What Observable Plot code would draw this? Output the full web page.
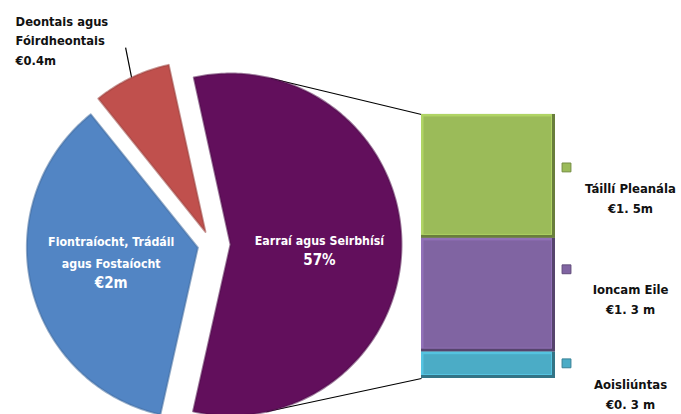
<!DOCTYPE html>
<html><head><meta charset="utf-8">
<script src="https://cdn.jsdelivr.net/npm/d3@7"></script>
<script src="https://cdn.jsdelivr.net/npm/@observablehq/plot@0.6"></script>
<style>
html,body{margin:0;padding:0;background:#fff;}
#chart svg{display:block;}
</style></head><body><div id="chart"></div>
<script>
// ---------- data ----------
const barCategories = ["Táillí Pleanála", "Ioncam Eile", "Aoisliúntas"];
const barValues = [1.46, 1.34, 0.31];            // €m, stacked top -> bottom
const barValueLabels = ["€1. 5m", "€1. 3 m", "€0. 3 m"];
const pieCategories = ["Earraí agus Seirbhísí", "Fiontraíocht, Trádáil\nagus Fostaíocht", "Deontais agus\nFóirdheontais"];
const pieOtherValues = [1.95, 0.4];              // €m; first slice = sum of the bar
const pieValueLabels = ["57%", "€2m", "€0.4m"];

// ---------- styles / layout ----------
const pieColors = ["#620f5c", "#5285c4", "#c0504d"];
const barColors = ["#9bbb59", "#8064a2", "#4bacc6"];
const W = 681, H = 414;
const pxPerM = 84.9, barBottomPx = 378, barLeftPx = 421, barRightPx = 555;
const pieCenterPx = [211, 244], pieR = 171, explodePx = [19, 14, 14];
const startDeg = -12.4;
const legendNudgePx = [-9, -26, -2];
const FONT = "'DejaVu Sans Condensed', 'DejaVu Sans', sans-serif";

const X = px => px / pxPerM;
const Y = py => (barBottomPx - py) / pxPerM;
const PY = v => barBottomPx - v * pxPerM;
const dark = (c, k) => d3.color(c).darker(k).formatHex();
const light = (c, k) => d3.color(c).brighter(k).formatHex();

// ---------- pie geometry ----------
const total = d3.sum(barValues);
const pieValues = [total, ...pieOtherValues];
const pieData = pieCategories.map((c, i) => ({category: c, value: pieValues[i], label: pieValueLabels[i], color: pieColors[i], explode: explodePx[i]}));
const a0 = startDeg * Math.PI / 180;
const arcs = d3.pie().sort(null).value(d => d.value).startAngle(a0).endAngle(a0 + 2 * Math.PI)(pieData);
const slices = arcs.map((a, i) => {
  const m = (a.startAngle + a.endAngle) / 2;
  return {...a, i, m, ax: pieCenterPx[0] + a.data.explode * Math.sin(m), ay: pieCenterPx[1] - a.data.explode * Math.cos(m)};
});
const slicePts = slices.flatMap(s => {
  const n = Math.ceil((s.endAngle - s.startAngle) * 60) + 4;
  const pts = [[s.ax, s.ay]];
  for (let j = 0; j <= n; j++) {
    const t = s.startAngle + (s.endAngle - s.startAngle) * j / n;
    pts.push([s.ax + pieR * Math.sin(t), s.ay - pieR * Math.cos(t)]);
  }
  pts.push([s.ax, s.ay]);
  return pts.map(p => ({k: s.i, x: X(p[0]), y: Y(p[1]), fill: s.data.color, stroke: dark(s.data.color, 0.6)}));
});

// labels inside slices (0: purple, 1: blue)
const insideLabels = slices.slice(0, 2).map(s => {
  const f = 0.52;
  const px = s.ax + f * pieR * Math.sin(s.m), py = s.ay - f * pieR * Math.cos(s.m);
  const nLines = s.data.category.split("\n").length;
  return {px, py, name: s.data.category, value: s.data.label, nameY: Y(py - 7 - (nLines - 1) * 10.5), valueY: Y(py + 15), x: X(px)};
});

// outside label for the small red slice
const red = slices[2];
const redMid = [red.ax + pieR * Math.sin(red.m), red.ay - pieR * Math.cos(red.m)];
const leaderEnd = [redMid[0] - 6, redMid[1] - 30];
const redLabel = [{x: X(leaderEnd[0] - 110), y: Y(leaderEnd[1] - 8.5), text: red.data.category + "\n" + red.data.label}];
const leader = [{x1: X(redMid[0]), y1: Y(redMid[1]), x2: X(leaderEnd[0]), y2: Y(leaderEnd[1])}];

// connector lines: tangents from bar corners to the "other" slice
function tangent(P, C, r, upper) {
  const dx = P[0] - C[0], dy = P[1] - C[1], d = Math.hypot(dx, dy);
  const base = Math.atan2(dy, dx), off = Math.acos(r / d);
  const p1 = [C[0] + r * Math.cos(base + off), C[1] + r * Math.sin(base + off)];
  const p2 = [C[0] + r * Math.cos(base - off), C[1] + r * Math.sin(base - off)];
  return upper ? (p1[1] < p2[1] ? p1 : p2) : (p1[1] > p2[1] ? p1 : p2);
}
const other = slices[0];
const corners = [[barLeftPx, PY(total)], [barLeftPx, PY(0)]];
const connectors = corners.map((P, i) => {
  const T = tangent(P, [other.ax, other.ay], pieR, i === 0);
  return {x1: X(T[0]), y1: Y(T[1]), x2: X(P[0]), y2: Y(P[1])};
});

// ---------- bar ----------
const barData = barCategories.map((c, i) => ({category: c, value: barValues[i], label: barValueLabels[i], color: barColors[i]}));
let acc = total;
const legend = barData.map((d, i) => {
  const mid = acc - d.value / 2; acc -= d.value;
  const sq = PY(mid) + legendNudgePx[i];
  return {...d, sx: X(566), sy: Y(sq), tx: X(630), ny: Y(sq + 21), vy: Y(sq + 41)};
});
const bx = {x1: X(barLeftPx), x2: X(barRightPx), y: "value", reverse: true};

const chart = Plot.plot({
  width: W, height: H, margin: 0,
  x: {domain: [0, X(W)], axis: null},
  y: {domain: [Y(H), Y(0)], axis: null},
  color: {type: "identity"},
  style: {fontFamily: FONT, background: "white", overflow: "visible"},
  marks: [
    Plot.link(connectors, {x1: "x1", y1: "y1", x2: "x2", y2: "y2", stroke: "#000", strokeWidth: 1.2}),
    Plot.link(leader, {x1: "x1", y1: "y1", x2: "x2", y2: "y2", stroke: "#000", strokeWidth: 1.2}),
    Plot.line(slicePts, {x: "x", y: "y", z: "k", fill: "fill", stroke: "stroke", strokeWidth: 2, strokeOpacity: 0.55, curve: "linear"}),
    // bar with a simple bevel
    Plot.rectY(barData, {...bx, fill: d => dark(d.color, 1.1)}),
    Plot.rectY(barData, {...bx, fill: d => light(d.color, 0.35), insetRight: 3, insetBottom: 3}),
    Plot.rectY(barData, {...bx, fill: "color", insetTop: 2.5, insetLeft: 2.5, insetRight: 4, insetBottom: 4}),
    Plot.dot(legend, {x: "sx", y: "sy", symbol: "square", r: 5, fill: "color", stroke: d => dark(d.color, 0.8), strokeWidth: 1}),
    Plot.text(legend, {x: "tx", y: "ny", text: "category", fill: "#111", fontSize: 13, fontWeight: "bold"}),
    Plot.text(legend, {x: "tx", y: "vy", text: "label", fill: "#111", fontSize: 13, fontWeight: "bold"}),
    Plot.text(insideLabels, {x: "x", y: "nameY", text: "name", fill: "white", fontSize: 12.3, fontWeight: "bold", lineHeight: 1.72}),
    Plot.text(insideLabels, {x: "x", y: "valueY", text: "value", fill: "white", fontSize: 15, fontWeight: "bold"}),
    Plot.text(redLabel, {x: "x", y: "y", text: "text", fill: "#111", fontSize: 12.8, fontWeight: "bold", textAnchor: "start", lineHeight: 1.53})
  ]
});
document.getElementById("chart").append(chart);
</script>
</body></html>
